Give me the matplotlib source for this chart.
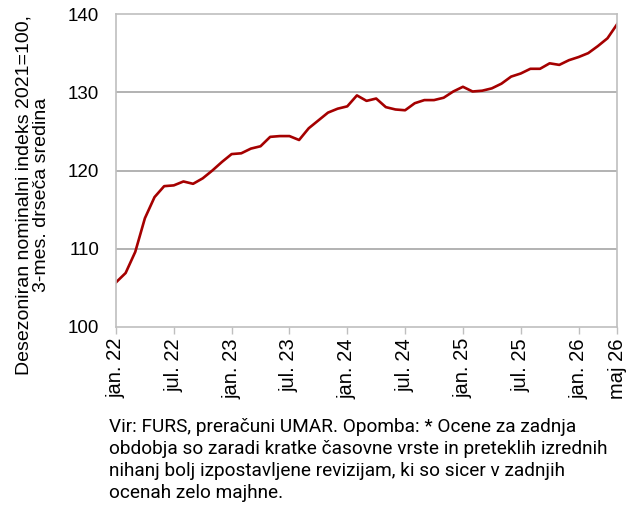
import numpy as np
import matplotlib
matplotlib.use("Agg")
import matplotlib.pyplot as plt

# monthly, jan. 22 .. maj 26
months = np.arange(53)
values = [
    105.7, 106.9, 109.6, 113.9, 116.6, 118.0, 118.1, 118.6, 118.3, 119.0,
    120.0, 121.1, 122.1, 122.2, 122.8, 123.1, 124.3, 124.4, 124.4, 123.9,
    125.4, 126.4, 127.4, 127.9, 128.2, 129.6, 128.9, 129.2, 128.1, 127.8,
    127.7, 128.6, 129.0, 129.0, 129.3, 130.1, 130.7, 130.1, 130.2, 130.5,
    131.1, 132.0, 132.4, 133.0, 133.0, 133.7, 133.5, 134.1, 134.5, 135.0,
    135.9, 136.9, 138.7,
]
tick_pos = [0, 6, 12, 18, 24, 30, 36, 42, 48, 52]
tick_labels = ["jan. 22", "jul. 22", "jan. 23", "jul. 23", "jan. 24",
               "jul. 24", "jan. 25", "jul. 25", "jan. 26", "maj 26"]
y_ticks = [100, 110, 120, 130, 140]

ylabel = "Desezoniran nominalni indeks 2021=100,\n3-mes. drseča sredina"
caption = ("Vir: FURS, preračuni UMAR. Opomba: * Ocene za zadnja\n"
           "obdobja so zaradi kratke časovne vrste in preteklih izrednih\n"
           "nihanj bolj izpostavljene revizijam, ki so sicer v zadnjih\n"
           "ocenah zelo majhne.")

plt.rcParams["font.family"] = ["Liberation Sans", "DejaVu Sans"]

fig = plt.figure(figsize=(6.31, 5.08), dpi=100)
ax = fig.add_axes([0.1838, 0.3563, 0.7942, 0.6161])

ax.plot(months, values, color="#a50000", lw=1.9, solid_joinstyle="round")

ax.set_xlim(0, 52)
ax.set_ylim(100, 140)
ax.set_yticks(y_ticks)
ax.set_xticks(tick_pos)
ax.set_xticklabels(tick_labels, rotation=90)
ax.tick_params(axis="x", length=5, width=1, color="#bfbfbf", labelsize=14.5,
               pad=3)
ax.tick_params(axis="y", length=0, labelsize=13.5, pad=12)

for v in y_ticks[1:-1]:
    ax.axhline(v, color="#a6a6a6", lw=1.2, zorder=0)
for s in ax.spines.values():
    s.set_color("#bfbfbf")
    s.set_linewidth(1.2)

fig.text(0.0515, 0.616, ylabel, rotation=90, ha="center", va="center",
         multialignment="center", fontsize=14, linespacing=1.05)
fig.text(0.173, 0.178, caption, ha="left", va="top", fontsize=13.7,
         family=["Roboto", "DejaVu Sans"], linespacing=1.3)

fig.savefig("out.png", dpi=100)
